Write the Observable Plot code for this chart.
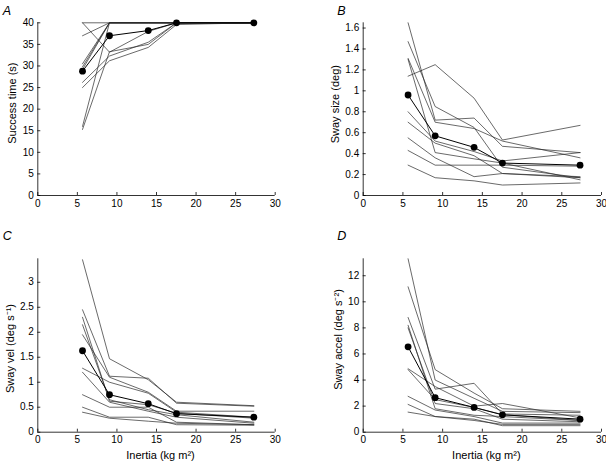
<!DOCTYPE html>
<html><head><meta charset="utf-8">
<script src="https://cdn.jsdelivr.net/npm/d3@7"></script>
<script src="https://cdn.jsdelivr.net/npm/@observablehq/plot@0.6"></script>
<style>
body{margin:0;background:#fff;}
#chart{position:relative;width:606px;height:462px;font-family:"Liberation Sans",Arial,sans-serif;}
#chart svg{position:absolute;overflow:visible;}
</style></head><body><div id="chart"></div>
<script>
// Inertia levels (kg m^2)
const inertia = [5.65, 9.06, 13.96, 17.53, 27.3];
const xTicks = [0, 5, 10, 15, 20, 25, 30];

// Panel A: success time (s)
const successMean = [28.8, 37, 38.2, 40, 40];
const successSubjects = [
  [40, 40, 40, 40, 40],
  [40, 33.2, 38, 40, 40],
  [37, 40, 40, 40, 40],
  [30.5, 40, 40, 40, 40],
  [29.8, 40, 40, 40, 40],
  [29.2, 40, 40, 40, 40],
  [26.2, 32.3, 35.5, 40, 40],
  [25, 31.2, 34.3, 39.6, 40],
  [16, 40, 40, 40, 40],
  [15.3, 33.3, 35, 40, 40]
];
const successTicks = [0, 5, 10, 15, 20, 25, 30, 35, 40];

// Panel B: sway size (deg)
const sizeMean = [0.96, 0.57, 0.46, 0.31, 0.29];
const sizeSubjects = [
  [1.65, 0.72, 0.74, 0.47, 0.41],
  [1.47, 0.85, 0.65, 0.27, 0.17],
  [1.31, 0.70, 0.64, 0.52, 0.36],
  [1.30, 0.41, 0.35, 0.31, 0.15],
  [1.14, 1.25, 0.93, 0.53, 0.67],
  [0.80, 0.52, 0.42, 0.33, 0.41],
  [0.70, 0.50, 0.38, 0.21, 0.18],
  [0.55, 0.36, 0.18, 0.21, 0.17],
  [0.43, 0.29, 0.29, 0.29, 0.28],
  [0.29, 0.17, 0.14, 0.10, 0.12]
];
const sizeTicks = [0, 0.2, 0.4, 0.6, 0.8, 1, 1.2, 1.4, 1.6];

// Panel C: sway velocity (deg s^-1)
const velMean = [1.63, 0.75, 0.57, 0.37, 0.30];
const velSubjects = [
  [3.45, 1.47, 1.05, 0.60, 0.53],
  [2.45, 1.12, 1.08, 0.58, 0.52],
  [2.30, 0.62, 0.55, 0.38, 0.28],
  [2.15, 0.65, 0.45, 0.35, 0.20],
  [1.95, 1.10, 0.80, 0.42, 0.42],
  [1.28, 1.00, 0.78, 0.40, 0.30],
  [1.20, 0.60, 0.42, 0.30, 0.18],
  [0.75, 0.50, 0.50, 0.20, 0.15],
  [0.50, 0.30, 0.30, 0.15, 0.14],
  [0.40, 0.28, 0.22, 0.18, 0.15]
];
const velTicks = [0, 0.5, 1, 1.5, 2, 2.5, 3];

// Panel D: sway acceleration (deg s^-2)
const accMean = [6.55, 2.65, 1.9, 1.33, 1.0];
const accSubjects = [
  [13.3, 4.0, 2.6, 1.6, 1.5],
  [11.15, 4.8, 3.0, 1.8, 1.6],
  [8.8, 3.3, 3.75, 1.4, 1.3],
  [8.2, 1.8, 1.3, 1.2, 0.9],
  [8.0, 2.2, 1.8, 1.0, 0.8],
  [4.87, 3.5, 2.0, 2.2, 1.1],
  [4.8, 2.5, 1.9, 1.35, 0.9],
  [2.75, 1.7, 1.2, 0.7, 0.7],
  [2.13, 1.2, 1.0, 0.5, 0.5],
  [1.54, 1.2, 0.9, 0.6, 0.6]
];
const accTicks = [0, 2, 4, 6, 8, 10, 12];

function panel(o) {
  const pw = o.W - o.ml - o.mr, ph = o.H - o.mt - o.mb;
  const subjRows = o.subjects.flatMap((vals, s) => vals.map((v, i) => ({s, x: inertia[i], y: v})));
  const meanRows = o.mean.map((v, i) => ({x: inertia[i], y: v}));
  const marks = [
    Plot.ruleX([0], {stroke: "#000", strokeWidth: 0.8}),
    Plot.ruleY([0], {stroke: "#000", strokeWidth: 0.8}),
    Plot.tickY(o.yTicks, {y: d => d, insetRight: pw - 3, stroke: "#000", strokeWidth: 0.8}),
    Plot.tickX(xTicks, {x: d => d, insetTop: ph - 3, stroke: "#000", strokeWidth: 0.8}),
    Plot.axisX(xTicks, {tickSize: 0, tickPadding: 4, tickFormat: d => String(d), fontSize: 10, label: null}),
    Plot.axisY(o.yTicks, {tickSize: 0, tickPadding: 4, tickFormat: d => String(d), fontSize: 10, label: null}),
    Plot.line(subjRows, {x: "x", y: "y", z: "s", stroke: "#2a2a2a", strokeWidth: 0.7}),
    Plot.line(meanRows, {x: "x", y: "y", stroke: "#000", strokeWidth: 1.0}),
    Plot.dot(meanRows, {x: "x", y: "y", r: 3.4, fill: "#000"}),
    Plot.text([o.yLabel], {frameAnchor: "left", textAnchor: "middle", lineAnchor: "middle", rotate: -90,
      dx: o.labelDx, dy: o.labelDy, text: d => d, fontSize: 11, fill: "#000"}),
    Plot.text([o.letter], {frameAnchor: "top-left", dx: o.letterDx, dy: o.letterDy, text: d => d,
      textAnchor: "start", lineAnchor: "top", fontSize: 12.5, fontStyle: "italic", fill: "#000"})
  ];
  if (o.xLabel) marks.push(Plot.text([o.xLabel], {frameAnchor: "bottom", textAnchor: "middle", lineAnchor: "middle",
    dx: 4, dy: 23, text: d => d, fontSize: 11, fill: "#000"}));
  const svg = Plot.plot({
    width: o.W, height: o.H,
    marginLeft: o.ml, marginRight: o.mr, marginTop: o.mt, marginBottom: o.mb,
    style: {fontFamily: "'Liberation Sans', Arial, sans-serif", fontSize: "10px", color: "#000", background: "transparent"},
    x: {domain: [0, 30]},
    y: {domain: o.yDomain},
    marks
  });
  svg.style.left = o.left + "px";
  svg.style.top = o.top + "px";
  document.getElementById("chart").appendChild(svg);
}

panel({letter: "A", subjects: successSubjects, mean: successMean, yDomain: [0, 40], yTicks: successTicks,
  yLabel: "Success time (s)", left: 0, top: 0, W: 303, H: 225, ml: 37.3, mr: 28.3, mt: 22.3, mb: 30,
  labelDx: -25, labelDy: -6, letterDx: -35, letterDy: -17});
panel({letter: "B", subjects: sizeSubjects, mean: sizeMean, yDomain: [0, 1.65], yTicks: sizeTicks,
  yLabel: "Sway size (deg)", left: 303, top: 0, W: 303, H: 225, ml: 59.7, mr: 5, mt: 22.3, mb: 30,
  labelDx: -28, labelDy: -5, letterDx: -26, letterDy: -17});
panel({letter: "C", subjects: velSubjects, mean: velMean, yDomain: [0, 3.47], yTicks: velTicks,
  yLabel: "Sway vel (deg s\u207B\u00B9)", left: 0, top: 225, W: 303, H: 237, ml: 37.3, mr: 28.3, mt: 33.3, mb: 30.3,
  labelDx: -27, labelDy: 3, letterDx: -35, letterDy: -28, xLabel: "Inertia (kg m\u00B2)"});
panel({letter: "D", subjects: accSubjects, mean: accMean, yDomain: [0, 13.3], yTicks: accTicks,
  yLabel: "Sway accel (deg s\u207B\u00B2)", left: 303, top: 225, W: 303, H: 237, ml: 59.7, mr: 5, mt: 33.3, mb: 30.3,
  labelDx: -25, labelDy: -6, letterDx: -26, letterDy: -28, xLabel: "Inertia (kg m\u00B2)"});
</script></body></html>
